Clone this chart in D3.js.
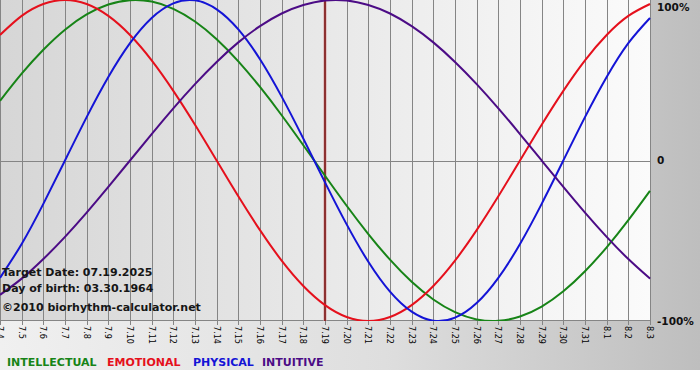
<!DOCTYPE html>
<html>
<head>
  <meta charset="UTF-8">
  <style>
    body { margin: 0; background: #fff; }
    svg { display: block; }
    text { font-family: "DejaVu Sans", Verdana, sans-serif; }
    .tick-label { font-family: "DejaVu Sans Condensed", "DejaVu Sans", sans-serif; font-size: 9px; fill: #000; }
    .axis-label { font-size: 10.5px; font-weight: bold; fill: #111; }
    .info { font-size: 11px; font-weight: bold; fill: #161616; }
    .legend { font-size: 11px; font-weight: bold; }
  </style>
</head>
<body>
<svg id="chart"></svg>
<script src="https://d3js.org/d3.v7.min.js"></script>
<script>

// days shown on the x axis
var days = ["7.4","7.5","7.6","7.7","7.8","7.9","7.10","7.11","7.12","7.13","7.14","7.15",
            "7.16","7.17","7.18","7.19","7.20","7.21","7.22","7.23","7.24","7.25","7.26",
            "7.27","7.28","7.29","7.30","7.31","8.1","8.2","8.3"];

// cycle values (-1 .. 1) read per day
var intellectual = [0.372, 0.541, 0.690, 0.815, 0.910, 0.972, 0.999, 0.990, 0.945, 0.866, 0.756,
                    0.618, 0.458, 0.282, 0.095, -0.095, -0.282, -0.458, -0.618, -0.756, -0.866,
                    -0.945, -0.990, -0.999, -0.972, -0.910, -0.815, -0.690, -0.541, -0.372, -0.189];
var emotional = [0.782, 0.901, 0.975, 1.000, 0.975, 0.901, 0.782, 0.624, 0.434, 0.223, 0.000,
                 -0.223, -0.434, -0.624, -0.782, -0.901, -0.975, -1.000, -0.975, -0.901, -0.782,
                 -0.624, -0.434, -0.223, 0.000, 0.223, 0.434, 0.624, 0.782, 0.901, 0.975];
var physical = [-0.731, -0.520, -0.270, 0.000, 0.270, 0.520, 0.731, 0.888, 0.979, 0.998, 0.942,
                0.817, 0.631, 0.398, 0.136, -0.136, -0.398, -0.631, -0.817, -0.942, -0.998,
                -0.979, -0.888, -0.731, -0.520, -0.270, 0.000, 0.270, 0.520, 0.731, 0.888];
var intuitive = [-0.837, -0.736, -0.614, -0.476, -0.325, -0.165, 0.000, 0.165, 0.325, 0.476, 0.614,
                 0.736, 0.837, 0.916, 0.969, 0.997, 0.997, 0.969, 0.916, 0.837, 0.736,
                 0.614, 0.476, 0.325, 0.165, 0.000, -0.165, -0.325, -0.476, -0.614, -0.736];

var yTicks = [1, 0, -1];
var yTickLabels = ["100%", "0", "-100%"];
var targetDay = "7.19";

var seriesNames = ["INTELLECTUAL", "EMOTIONAL", "PHYSICAL", "INTUITIVE"];
var seriesColors = ["#178417", "#e5101c", "#1414d6", "#4c0c86"];
var seriesValues = [intellectual, emotional, physical, intuitive];

var infoLines = ["Target Date: 07.19.2025", "Day of birth: 03.30.1964", "\u00a92010 biorhythm-calculator.net"];

var width = 700, height = 380;
var plotW = 650, plotH = 321;

var svg = d3.select("#chart")
    .attr("width", width)
    .attr("height", height);

var defs = svg.append("defs");
var outerGrad = defs.append("linearGradient")
    .attr("id", "outerGrad").attr("x1", "0%").attr("x2", "100%").attr("y1", "0%").attr("y2", "0%");
outerGrad.append("stop").attr("offset", "0%").attr("stop-color", "#f0f0f0");
outerGrad.append("stop").attr("offset", "55%").attr("stop-color", "#dedede");
outerGrad.append("stop").attr("offset", "100%").attr("stop-color", "#bebebe");

var plotGrad = defs.append("linearGradient")
    .attr("id", "plotGrad").attr("x1", "0%").attr("x2", "100%").attr("y1", "0%").attr("y2", "0%");
plotGrad.append("stop").attr("offset", "0%").attr("stop-color", "#d6d6d6");
plotGrad.append("stop").attr("offset", "100%").attr("stop-color", "#fbfbfb");

defs.append("clipPath").attr("id", "plotClip")
    .append("rect").attr("x", 0).attr("y", 0).attr("width", plotW + 1).attr("height", plotH);

// backgrounds
svg.append("rect")
    .attr("x", 0).attr("y", 0).attr("width", width).attr("height", 370)
    .attr("fill", "url(#outerGrad)");
svg.append("rect")
    .attr("x", 0).attr("y", 0).attr("width", plotW).attr("height", plotH)
    .attr("fill", "url(#plotGrad)");

var x = d3.scalePoint().domain(days).range([0, plotW]);
var y = d3.scaleLinear().domain([-1, 1]).range([plotH, 0]);

function px(v) { return Math.round(v) + 0.5; }

// vertical grid + ticks
svg.append("g")
    .selectAll("line")
    .data(days)
    .enter()
    .append("line")
    .attr("x1", d => px(x(d))).attr("x2", d => px(x(d)))
    .attr("y1", 0).attr("y2", plotH + 4)
    .attr("stroke", "#858585")
    .attr("stroke-width", 1);

// zero line and bottom axis
svg.append("g")
    .selectAll("line")
    .data([0, -1])
    .enter()
    .append("line")
    .attr("x1", 0).attr("x2", plotW + 1)
    .attr("y1", d => px(y(d) - (d === -1 ? 1 : 0))).attr("y2", d => px(y(d) - (d === -1 ? 1 : 0)))
    .attr("stroke", "#858585");

// x tick labels, rotated
svg.append("g")
    .selectAll("text")
    .data(days)
    .enter()
    .append("text")
    .attr("class", "tick-label")
    .attr("transform", d => "translate(" + x(d) + "," + (plotH + 5) + ") rotate(90)")
    .attr("dy", "0.35em")
    .text(d => d);

// y labels
svg.append("g")
    .selectAll("text")
    .data(yTicks)
    .enter()
    .append("text")
    .attr("class", "axis-label")
    .attr("x", 657)
    .attr("y", (d, i) => Math.min(Math.max(y(d), 7.5), plotH + 1))
    .attr("dy", "0.36em")
    .text((d, i) => yTickLabels[i]);

// target day marker
var tx = x(targetDay);
svg.append("line")
    .attr("x1", tx).attr("x2", tx).attr("y1", 0).attr("y2", plotH)
    .attr("stroke", "#d8a0a0").attr("stroke-width", 3);
svg.append("line")
    .attr("x1", tx).attr("x2", tx).attr("y1", 0).attr("y2", plotH)
    .attr("stroke", "#7a1414").attr("stroke-width", 1.6);

// curves
var line = d3.line()
    .x((d, i) => x(days[i]))
    .y(d => y(d))
    .curve(d3.curveNatural);

svg.append("g")
    .attr("clip-path", "url(#plotClip)")
    .selectAll("path")
    .data(seriesValues)
    .enter()
    .append("path")
    .attr("d", d => line(d))
    .attr("fill", "none")
    .attr("stroke", (d, i) => seriesColors[i])
    .attr("stroke-width", 2);

// info text
svg.append("g")
    .selectAll("text")
    .data(infoLines)
    .enter()
    .append("text")
    .attr("class", "info")
    .attr("x", 2)
    .attr("y", (d, i) => [276, 291.5, 311][i])
    .text(d => d);

// legend
var legendX = [7, 107, 193, 262];
svg.append("g")
    .selectAll("text")
    .data(seriesNames)
    .enter()
    .append("text")
    .attr("class", "legend")
    .attr("x", (d, i) => legendX[i])
    .attr("y", 366)
    .attr("fill", (d, i) => seriesColors[i])
    .text(d => d);

</script>
</body>
</html>
